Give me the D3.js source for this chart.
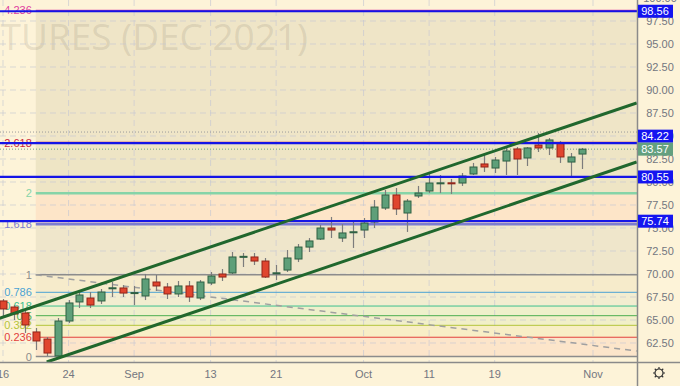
<!DOCTYPE html>
<html>
<head>
<meta charset="utf-8">
<script src="https://cdn.jsdelivr.net/npm/d3@7"></script>
<style>
  body { margin: 0; background: #fdf3d8; }
  svg { display: block; }
  text { font-family: "Liberation Sans", Arial, sans-serif; }
</style>
</head>
<body>
<div id="chart"></div>
<script>
(function() {

  // trading days shown (2021), one candle each
  var dates = ["08-16","08-17","08-18","08-19","08-20","08-23","08-24","08-25","08-26","08-27",
               "08-30","08-31","09-01","09-02","09-03","09-07","09-08","09-09","09-10","09-13",
               "09-14","09-15","09-16","09-17","09-20","09-21","09-22","09-23","09-24","09-27",
               "09-28","09-29","09-30","10-01","10-04","10-05","10-06","10-07","10-08","10-11",
               "10-12","10-13","10-14","10-15","10-18","10-19","10-20","10-21","10-22","10-25",
               "10-26","10-27","10-28","10-29"];

  var opens  = [67.07,66.41,65.76,63.70,62.93,61.10,64.89,66.96,67.39,67.07,
                68.48,68.48,67.95,67.61,69.13,68.59,67.83,68.70,67.39,69.02,
                70.00,70.11,71.90,71.85,71.41,70.11,70.43,71.63,72.93,73.80,
                75.00,73.91,74.57,74.78,75.65,77.17,78.59,76.63,78.48,79.02,
                79.89,79.91,79.89,80.87,81.96,81.52,82.28,83.59,82.61,84.02,
                83.70,84.24,82.17,83.04];
  var highs  = [67.28,66.63,65.98,64.13,63.15,65.22,67.17,68.26,68.04,68.37,
                69.13,68.80,68.70,70.00,69.89,69.02,69.24,69.24,69.35,70.22,
                70.54,72.39,72.28,72.28,71.74,70.98,72.61,73.26,73.91,75.33,
                76.20,75.43,75.65,76.09,78.04,79.13,79.35,78.15,79.57,81.09,
                80.76,80.33,80.98,82.07,83.15,82.72,83.80,83.80,83.80,85.33,
                84.78,84.46,83.15,83.70];
  var lows   = [65.22,65.00,63.59,61.74,61.09,61.03,64.67,66.30,66.30,66.74,
                67.50,67.50,66.63,67.17,68.15,67.28,67.50,66.96,67.17,68.80,
                69.24,70.00,70.76,70.98,69.57,69.35,70.22,71.30,72.39,73.70,
                73.91,73.48,72.83,73.91,75.00,76.96,76.41,74.57,78.26,78.80,
                78.80,78.70,79.57,80.76,81.09,80.98,80.76,80.76,81.74,83.26,
                82.93,82.07,80.54,81.41];
  var closes = [66.20,65.65,64.46,62.72,61.41,64.89,66.85,67.72,66.63,68.04,
                68.50,67.93,67.98,69.46,68.70,67.83,68.70,67.50,69.13,69.78,
                69.67,71.85,71.92,71.41,69.67,70.13,71.74,72.93,73.59,75.00,
                74.78,74.46,74.59,75.54,77.28,78.59,77.07,77.93,78.80,79.89,
                79.91,79.89,80.65,81.63,81.63,82.39,83.37,82.50,83.70,83.70,
                84.57,82.72,82.72,83.57];

  // axis ticks
  var priceTicks = [62.5,65,67.5,70,72.5,75,77.5,80,82.5,85,87.5,90,92.5,95,97.5,100];
  var dateTickLabels = ["16","24","Sep","13","21","Oct","11","19","Nov"];
  var dateTickIndex  = [0, 6, 12, 19, 25, 33, 39, 45, 54];

  // fibonacci drawing (anchored at Aug 19)
  var fibStart = 3, fibLow = 61.03, fibHigh = 69.91;
  var fibLevels = [0, 0.236, 0.382, 0.5, 0.618, 0.786, 1, 1.618, 2, 2.618, 4.236];
  var fibLabels = ["0","0.236","0.382","0.5","0.618","0.786","1","1.618","2","2.618","4.236"];
  var fibColors = ["#8c8c8c","#e2403c","#b4c43a","#4cae50","#3cc08e","#4aa2d4",
                   "#8c8c8c","#7c7cd0","#86d4a8","#c8283c","#e040a0"];
  var fibWidths = [1.5, 1, 1, 1, 1, 1, 1.5, 2.5, 2.5, 2, 1.5];
  var fibFills  = [null,"#fce5ca","#f8eec6","#f1efc9","#eef0cb","#f2edd0",
                   "#f6ebcb","#efe6cb","#fde5c8","#eee5c5","#efe5c7"];

  // other drawings: [bar index, price]
  var upperChannel = [[-1, 64.92], [58, 88.59]];
  var lowerChannel = [[4, 60.43], [58, 82.17]];
  var dashedTrend  = [[3, 69.91], [58, 61.63]];
  var blueLevels   = [98.56, 84.22, 80.55, 75.74];
  var highLevel    = 85.43;

  var W = 680, H = 386, plotW = 637, plotH = 362;

  var x = d3.scaleLinear().domain([0, 54]).range([3, 593]);
  var y = d3.scaleLinear().domain([62.5, 97.5]).range([343, 21]);
  var fibPrice = function(l) { return fibLow + l * (fibHigh - fibLow); };

  var svg = d3.select("#chart").append("svg")
      .attr("width", W)
      .attr("height", H);

  svg.append("defs").append("clipPath")
      .attr("id", "plot-clip")
    .append("rect")
      .attr("width", plotW)
      .attr("height", plotH);

  svg.append("rect")
      .attr("width", W)
      .attr("height", H)
      .attr("fill", "#fdf3d8");

  var plot = svg.append("g")
      .attr("clip-path", "url(#plot-clip)");

  // fib zone fills
  fibLevels.forEach(function(l, i) {
    if (!i) return;
    var y0 = y(fibPrice(l)), y1 = y(fibPrice(fibLevels[i - 1]));
    plot.append("rect")
        .attr("x", x(fibStart))
        .attr("y", y0)
        .attr("width", plotW - x(fibStart))
        .attr("height", y1 - y0)
        .attr("fill", fibFills[i]);
  });

  // watermark
  plot.append("text")
      .attr("x", 308)
      .attr("y", 50)
      .attr("text-anchor", "end")
      .style("font-family", "'Open Sans', sans-serif")
      .style("font-size", "37px")
      .attr("fill", "rgba(130,120,100,0.18)")
      .text("LIGHT CRUDE OIL FUTURES (DEC 2021)");

  // grid
  var grid = plot.append("g")
      .attr("stroke", "#c6c8d2")
      .attr("stroke-opacity", 0.65)
      .attr("stroke-dasharray", "6,4");

  grid.selectAll("line.v")
      .data(dateTickIndex)
    .enter().append("line")
      .attr("x1", function(d) { return x(d); })
      .attr("x2", function(d) { return x(d); })
      .attr("y1", 0)
      .attr("y2", plotH);

  grid.selectAll("line.h")
      .data(priceTicks)
    .enter().append("line")
      .attr("x1", 0)
      .attr("x2", plotW)
      .attr("y1", function(d) { return y(d); })
      .attr("y2", function(d) { return y(d); });

  // fib lines and labels
  fibLevels.forEach(function(l, i) {
    var yy = y(fibPrice(l));
    plot.append("line")
        .attr("x1", x(fibStart))
        .attr("x2", plotW)
        .attr("y1", yy)
        .attr("y2", yy)
        .attr("stroke", fibColors[i])
        .attr("stroke-width", fibWidths[i]);
    plot.append("text")
        .attr("x", x(fibStart) - 4)
        .attr("y", yy + 4)
        .attr("text-anchor", "end")
        .style("font-size", "11px")
        .attr("fill", fibColors[i])
        .text(fibLabels[i]);
  });

  var line = d3.line()
      .x(function(d) { return x(d[0]); })
      .y(function(d) { return y(d[1]); });

  plot.append("path")
      .attr("d", line(dashedTrend))
      .attr("fill", "none")
      .attr("stroke", "#a0a0a0")
      .attr("stroke-width", 1.5)
      .attr("stroke-dasharray", "6,5");

  // price lines
  plot.append("line")
      .attr("x1", 0).attr("x2", plotW)
      .attr("y1", y(highLevel)).attr("y2", y(highLevel))
      .attr("stroke", "#9a9a9a")
      .attr("stroke-dasharray", "1,2");

  plot.append("line")
      .attr("x1", 0).attr("x2", plotW)
      .attr("y1", y(closes[closes.length - 1])).attr("y2", y(closes[closes.length - 1]))
      .attr("stroke", "#6aa283")
      .attr("stroke-dasharray", "1,2");

  // candles
  var candle = plot.selectAll("g.candle")
      .data(dates)
    .enter().append("g")
      .attr("class", "candle");

  candle.append("line")
      .attr("x1", function(d, i) { return Math.round(x(i)) + 0.5; })
      .attr("x2", function(d, i) { return Math.round(x(i)) + 0.5; })
      .attr("y1", function(d, i) { return y(highs[i]); })
      .attr("y2", function(d, i) { return y(lows[i]); })
      .attr("stroke", "#7c7c7c")
      .attr("stroke-width", 1.2);

  candle.append("rect")
      .attr("x", function(d, i) { return Math.round(x(i)) - 3; })
      .attr("y", function(d, i) { return y(Math.max(opens[i], closes[i])); })
      .attr("width", 7)
      .attr("height", function(d, i) { return Math.max(1, Math.abs(y(opens[i]) - y(closes[i]))); })
      .attr("fill", function(d, i) { return closes[i] >= opens[i] ? "#5e9f79" : "#e0452e"; })
      .attr("stroke", function(d, i) { return closes[i] >= opens[i] ? "#2f6043" : "#922418"; })
      .attr("stroke-width", 1);

  // horizontal level lines
  plot.selectAll("line.level")
      .data(blueLevels)
    .enter().append("line")
      .attr("x1", 0)
      .attr("x2", plotW)
      .attr("y1", function(d) { return y(d); })
      .attr("y2", function(d) { return y(d); })
      .attr("stroke", "#1414e6")
      .attr("stroke-width", 2.2);

  // channel
  [upperChannel, lowerChannel].forEach(function(c) {
    plot.append("path")
        .attr("d", line(c))
        .attr("fill", "none")
        .attr("stroke", "#20672d")
        .attr("stroke-width", 3);
  });

  // axes frame
  svg.append("line")
      .attr("x1", 0).attr("x2", W)
      .attr("y1", plotH + 0.5).attr("y2", plotH + 0.5)
      .attr("stroke", "#8a8a8a")
      .attr("stroke-width", 1.5);

  svg.append("line")
      .attr("x1", plotW + 0.5).attr("x2", plotW + 0.5)
      .attr("y1", 0).attr("y2", H)
      .attr("stroke", "#8a8a8a")
      .attr("stroke-width", 1.5);

  // bottom axis labels
  svg.selectAll("text.date")
      .data(dateTickIndex)
    .enter().append("text")
      .attr("x", function(d) { return x(d); })
      .attr("y", 378)
      .attr("text-anchor", "middle")
      .style("font-size", "11px")
      .attr("fill", "#737680")
      .text(function(d, i) { return dateTickLabels[i]; });

  // right axis labels
  svg.selectAll("text.price")
      .data(priceTicks)
    .enter().append("text")
      .attr("x", 660)
      .attr("y", function(d) { return y(d) + 4; })
      .attr("text-anchor", "middle")
      .style("font-size", "11px")
      .attr("fill", "#737680")
      .text(function(d) { return d.toFixed(2); });

  // value boxes on the price scale
  var lastY = y(closes[closes.length - 1]), boxH = 13;
  var boxes = blueLevels.map(function(v) {
    var yy = y(v);
    if (Math.abs(yy - lastY) < boxH) yy = yy < lastY ? lastY - boxH : lastY + boxH;
    return { v: v, y: yy, fill: "#1414f0" };
  });
  boxes.push({ v: closes[closes.length - 1], y: lastY, fill: "#64a07f" });

  var box = svg.selectAll("g.box")
      .data(boxes)
    .enter().append("g");

  box.append("rect")
      .attr("x", plotW + 1)
      .attr("y", function(d) { return d.y - boxH / 2; })
      .attr("width", 35)
      .attr("height", boxH)
      .attr("fill", function(d) { return d.fill; });

  box.append("text")
      .attr("x", 655)
      .attr("y", function(d) { return d.y + 4; })
      .attr("text-anchor", "middle")
      .style("font-size", "11px")
      .attr("fill", "#fff")
      .text(function(d) { return d.v.toFixed(2); });

  // settings gear
  var gear = svg.append("g")
      .attr("transform", "translate(659,373)")
      .attr("stroke", "#333")
      .attr("fill", "none")
      .attr("stroke-width", 1.2);
  gear.append("circle").attr("r", 4);
  gear.selectAll("line")
      .data(d3.range(8))
    .enter().append("line")
      .attr("x1", function(d) { return 4 * Math.cos(d * Math.PI / 4); })
      .attr("y1", function(d) { return 4 * Math.sin(d * Math.PI / 4); })
      .attr("x2", function(d) { return 6 * Math.cos(d * Math.PI / 4); })
      .attr("y2", function(d) { return 6 * Math.sin(d * Math.PI / 4); });

})();
</script>
</body>
</html>
